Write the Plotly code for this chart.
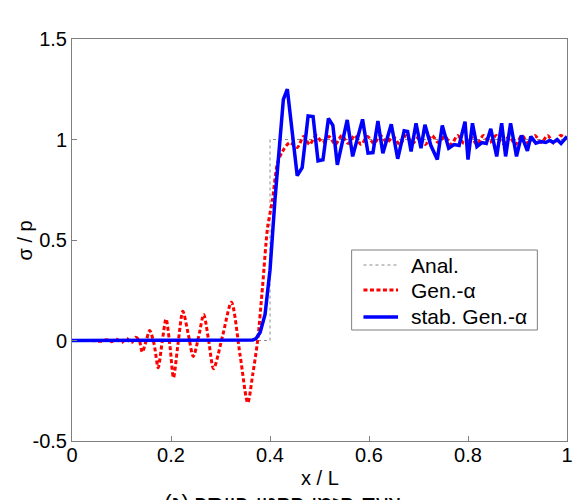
import plotly.graph_objects as go

# Analytical step
anal_x = [0.0, 0.4, 0.4, 1.0]
anal_y = [0.0, 0.0, 1.0, 1.0]

# Gen.-alpha (red dashed)
gen_x = [0.0, 0.04, 0.06, 0.07, 0.08, 0.09, 0.10, 0.11, 0.12, 0.129, 0.136, 0.142, 0.15, 0.157,
         0.166, 0.174, 0.182, 0.19, 0.198, 0.205, 0.214, 0.224, 0.235, 0.245, 0.256, 0.266,
         0.276, 0.286, 0.304, 0.322, 0.34, 0.355, 0.365, 0.375, 0.385, 0.395, 0.405, 0.415,
         0.425, 0.44, 0.455, 0.468, 0.48, 0.493, 0.506, 0.519, 0.532, 0.545, 0.558, 0.571,
         0.584, 0.597, 0.61, 0.623, 0.636, 0.649, 0.662, 0.675, 0.688, 0.701, 0.714, 0.727,
         0.74, 0.753, 0.766, 0.779, 0.792, 0.805, 0.818, 0.831, 0.844, 0.857, 0.87, 0.883,
         0.896, 0.909, 0.922, 0.935, 0.948, 0.961, 0.974, 0.987, 1.0]
gen_y = [0.0, 0.0, -0.004, 0.004, -0.006, 0.006, -0.01, 0.01, -0.012, 0.016, 0.0, -0.058, 0.0, 0.05,
         -0.02, -0.135, -0.01, 0.107, -0.03, -0.185, -0.02, 0.145, 0.03, -0.079, 0.02, 0.129,
         0.0, -0.14, 0.02, 0.19, -0.08, -0.31, -0.17, 0.0, 0.27, 0.56, 0.7, 0.88,
         0.94, 0.985, 0.96, 1.015, 0.975, 1.02, 0.985, 1.015, 0.975, 1.02, 0.98, 1.02,
         0.975, 1.015, 0.98, 1.02, 0.985, 1.015, 0.975, 1.02, 0.98, 1.015, 0.975, 1.02,
         0.985, 1.015, 0.975, 1.02, 0.98, 1.015, 0.975, 1.02, 0.985, 1.02, 0.98, 1.015,
         0.975, 1.02, 0.98, 1.02, 0.985, 1.02, 0.98, 1.02, 1.0]

# stabilized Gen.-alpha (blue solid)
stab_x = [0.0, 0.355, 0.365, 0.372, 0.38, 0.39, 0.40, 0.41, 0.42, 0.427, 0.435, 0.445, 0.455,
          0.465, 0.477, 0.487, 0.497, 0.507, 0.518, 0.527, 0.536, 0.556, 0.567, 0.587, 0.598,
          0.608, 0.618, 0.628, 0.645, 0.658, 0.671, 0.678, 0.685, 0.695, 0.705, 0.713, 0.725,
          0.738, 0.748, 0.761, 0.772, 0.782, 0.794, 0.8, 0.809, 0.818, 0.828, 0.837, 0.846,
          0.858, 0.868, 0.876, 0.886, 0.898, 0.908, 0.92, 0.927, 0.937, 0.947, 0.957, 0.965,
          0.972, 0.98, 0.988, 1.0]
stab_y = [0.0, 0.0, 0.002, 0.01, 0.04, 0.13, 0.35, 0.7, 1.0, 1.2, 1.25, 1.02, 0.82,
          0.86, 1.117, 1.114, 0.894, 0.899, 1.105, 1.07, 0.874, 1.097, 0.916, 1.1, 0.932,
          0.935, 1.092, 0.932, 1.076, 0.904, 1.043, 1.04, 0.94, 1.081, 0.957, 1.073, 0.97,
          0.9, 1.07, 0.957, 0.975, 0.97, 1.089, 0.9, 1.081, 0.965, 0.985, 0.98, 1.053,
          0.916, 1.081, 0.916, 1.081, 0.916, 1.02, 0.944, 1.015, 0.982, 0.99, 0.985, 0.995,
          0.985, 1.0, 0.98, 1.015]

series_names = ["Anal.", "Gen.-α", "stab. Gen.-α"]
series_colors = ["#8a8a8a", "#ff0000", "#0000ff"]
series_widths = [1, 3, 3.5]
series_dash = ["dot", "4px,2.5px", "solid"]

fig = go.Figure()
fig.add_trace(go.Scatter(x=anal_x, y=anal_y, mode="lines", name=series_names[0], showlegend=False,
                         line=dict(color=series_colors[0], width=series_widths[0], dash=series_dash[0])))
fig.add_trace(go.Scatter(x=gen_x, y=gen_y, mode="lines", name=series_names[1], showlegend=False,
                         line=dict(color=series_colors[1], width=series_widths[1], dash=series_dash[1],
                                   shape="spline", smoothing=0.8)))
fig.add_trace(go.Scatter(x=stab_x, y=stab_y, mode="lines", name=series_names[2], showlegend=False,
                         line=dict(color=series_colors[2], width=series_widths[2], dash=series_dash[2])))

axis_common = dict(showgrid=False, zeroline=False, showline=True, linecolor="#7f7f7f",
                   linewidth=1, mirror=True, ticks="inside", ticklen=5, tickcolor="#7f7f7f",
                   tickfont=dict(family="Liberation Sans, Arial", size=20, color="black"))

fig.update_xaxes(range=[0, 1], tickvals=[0, 0.2, 0.4, 0.6, 0.8, 1],
                 ticktext=["0", "0.2", "0.4", "0.6", "0.8", "1"], ticklabelstandoff=-4, **axis_common)
fig.update_yaxes(range=[-0.5, 1.5], tickvals=[-0.5, 0, 0.5, 1, 1.5],
                 ticktext=["-0.5", "0", "0.5", "1", "1.5"], **axis_common)

# manual legend (paper coordinates)
shapes = [dict(type="rect", xref="paper", yref="paper", x0=0.5649, x1=0.9401, y0=0.2761, y1=0.4751,
               line=dict(color="#7f7f7f", width=1), fillcolor="white", layer="above")]
annotations = []
legend_rows = [0.4378, 0.3756, 0.3085]
for name, col, w, d, yy in zip(series_names, series_colors, series_widths, series_dash, legend_rows):
    shapes.append(dict(type="line", xref="paper", yref="paper", x0=0.5888, x1=0.6587, y0=yy, y1=yy,
                       line=dict(color=col, width=w, dash=d), layer="above"))
    annotations.append(dict(text=name, xref="paper", yref="paper", x=0.6806, y=yy,
                            xanchor="left", yanchor="middle", showarrow=False, font=dict(size=21)))

annotations += [
    dict(text="x / L", xref="paper", yref="paper", x=0.5, y=-0.092,
         xanchor="center", yanchor="middle", showarrow=False, font=dict(size=20)),
    dict(text="σ / p", xref="paper", yref="paper", x=-0.094, y=0.5,
         xanchor="center", yanchor="middle", textangle=-90, showarrow=False, font=dict(size=20)),
    dict(text="(ג) צעד-הזמן הקטן ביותר", xref="paper", yref="paper", x=0.425, y=-0.119,
         xanchor="center", yanchor="top", showarrow=False, font=dict(size=23)),
]

fig.update_layout(
    width=581, height=500,
    margin=dict(l=72, r=8, t=39, b=59),
    paper_bgcolor="white", plot_bgcolor="white",
    font=dict(family="Liberation Sans, Arial", size=20, color="black"),
    showlegend=False,
    shapes=shapes,
    annotations=annotations,
)

fig.write_html("out.html")
